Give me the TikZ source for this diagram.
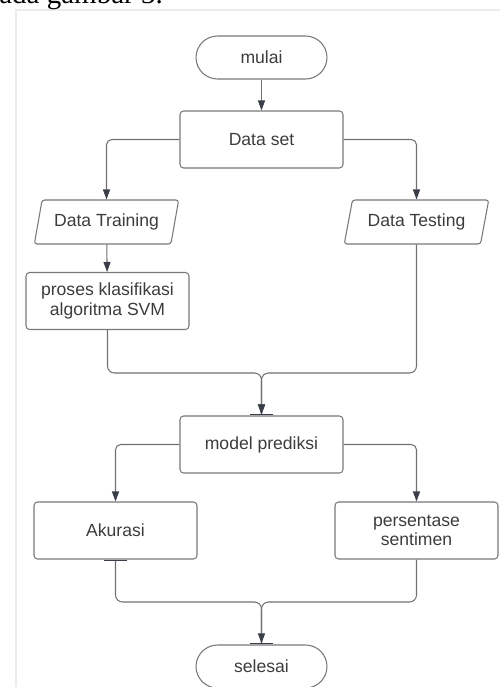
\documentclass[tikz,border=0pt]{standalone}
\usepackage{fontspec}
\setmainfont{Liberation Sans}
\newfontfamily\pageserif{Liberation Serif}
\usepackage{xcolor}
\definecolor{fcline}{RGB}{112,112,112}
\definecolor{fctip}{RGB}{58,62,72}
\definecolor{fcbox}{RGB}{120,120,120}
\definecolor{fctext}{RGB}{60,60,60}
\definecolor{fcframe}{RGB}{236,236,236}
\usetikzlibrary{arrows.meta,positioning,shapes.geometric,calc}

\begin{document}
\begin{tikzpicture}[
  x=0.02cm, y=-0.02cm,
  procbox/.style={
    rectangle, rounded corners=2pt,
    minimum width=3.26cm, minimum height=1.14cm,
    draw=fcbox, line width=0.6pt,
    font=\fontsize{10}{11}\selectfont,
    align=center, text=fctext
  },
  termbox/.style={
    rectangle, rounded corners=0.43cm,
    minimum width=2.62cm, minimum height=0.86cm,
    draw=fcbox, line width=0.6pt,
    font=\fontsize{10}{11}\selectfont,
    text=fctext
  },
  iobox/.style={
    trapezium, trapezium left angle=76, trapezium right angle=104,
    trapezium stretches=true, rounded corners=1.5pt,
    minimum width=2.9cm, minimum height=0.88cm,
    draw=fcbox, line width=0.6pt,
    font=\fontsize{10}{11}\selectfont,
    text=fctext
  },
  conn/.style={-{Triangle[length=0.2cm, width=0.14cm, color=fctip]},
    line width=0.6pt, draw=fcline, rounded corners=3pt},
  mainconn/.style={-{Triangle[length=0.2cm, width=0.14cm, color=fctip] Bar[width=0.48cm, color=fctip]},
    line width=0.6pt, draw=fcline, rounded corners=4pt}
]
\useasboundingbox (0,0) rectangle (500,687);
\clip (0,0) rectangle (500,687);

% page frame and cut caption
\draw[fcframe, line width=1.2pt] (16,700) -- (16,10) -- (510,10);
\node[font=\pageserif\fontsize{16.5}{18}\selectfont, anchor=base west, inner sep=0pt] (cap) at (-1,3) {ada gambar 3.};

\node[termbox] (mulai) at (261.5,57.5) {mulai};
\node[procbox] (dataset) at (261.5,139.5) {Data set};
\node[iobox] (train) at (106.5,222) {Data Training};
\node[iobox] (test) at (416.5,222) {Data Testing};
\node[procbox] (svm) at (107.5,301) {proses klasifikasi\\algoritma SVM};
\node[procbox] (model) at (261.5,444.5) {model prediksi};
\node[procbox] (akurasi) at (115.5,530.5) {Akurasi};
\node[procbox] (persen) at (416.5,530.5) {persentase\\sentimen};
\node[termbox] (selesai) at (261.5,666.5) {selesai};

\coordinate (join1) at (261.5,373);
\coordinate (join2) at (261.5,602);

\draw[conn] (mulai) -- (dataset);
\draw[conn] (dataset.west) -| (train.north);
\draw[conn] (dataset.east) -| (test.north);
\draw[conn] (train) -- (svm);

\draw[mainconn] (svm.south) |- (join1) -- (model.north);
\draw[mainconn] (test.south) |- (join1) -- (model.north);

\draw[conn] (model.west) -| (akurasi.north);
\draw[conn] (model.east) -| (persen.north);

\draw[mainconn, {Bar[width=0.48cm, color=fctip]}-] (akurasi.south) |- (join2) -- (selesai.north);
\draw[mainconn] (persen.south) |- (join2) -- (selesai.north);
\end{tikzpicture}
\end{document}
